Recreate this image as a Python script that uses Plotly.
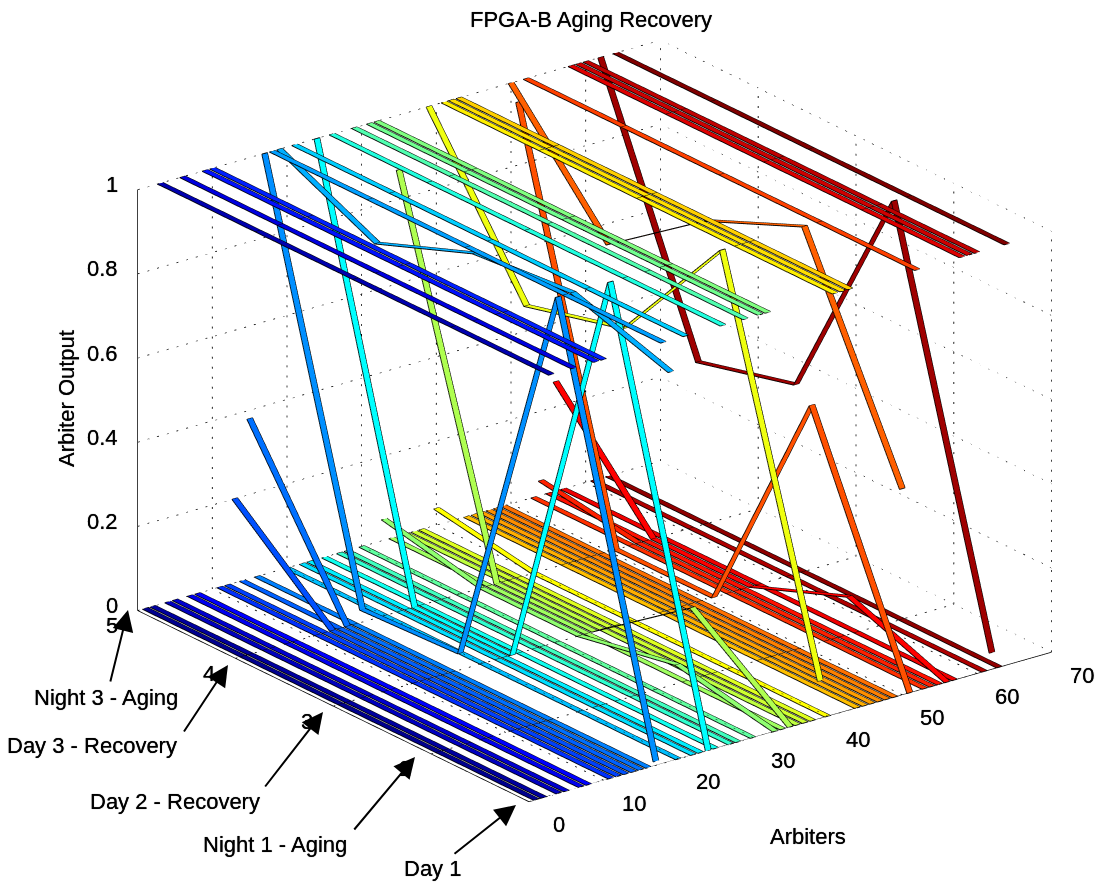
import plotly.graph_objects as go

# ---------- data ----------
arbiters = list(range(1, 65))
sample_index = [1, 2, 3, 4, 5]
day1 = [0,0,1,0,0,1,0,0,1,1,
        0,0,0,0,0,0,.01,1,.925,0,
        1,0,0,0,0,1,0,0,1,0,
        1,1,0,0,0,0,0,0,.09,0,
        1,1,1,0,0,0,0,0,0,.49,
        0,1,0,0,0,0,0,1,1,1,
        0,.04,0,1]
night1 = [0,0,1,0,0,1,0,0,1,1,
          0,0,0,0,0,0,1,1,1,0,
          1,0,0,1,0,1,0,0,1,0,
          1,1,.045,0,.17,0,0,0,1,0,
          1,1,1,0,0,0,0,0,0,1,
          .57,1,0,0,0,.09,0,1,1,1,
          0,1,0,1]
day2 = [0,0,1,0,0,1,0,0,1,1,
        0,0,0,0,0,0,.04,1,.98,0,
        1,0,0,0,0,1,0,0,1,0,
        1,1,0,0,0,0,0,0,.7,0,
        1,1,1,0,0,0,0,0,0,.9,
        0,1,0,0,0,0,0,1,1,1,
        0,.45,0,1]
day3 = [0,0,1,0,0,1,0,0,1,1,
        0,0,0,0,0,0,.03,1,.89,0,
        1,0,0,0,0,1,0,0,1,0,
        1,1,0,0,0,0,0,0,.64,0,
        1,1,1,0,0,0,0,0,0,.73,
        0,1,0,0,0,0,0,1,1,1,
        0,.39,0,1]
night3 = [0,0,1,0,0,1,0,0,1,1,
          0,0,.2,0,.38,0,1,1,1,0,
          1,0,0,1,0,1,0,0,1,0,
          1,1,.05,0,.87,0,0,0,1,.04,
          1,1,1,0,0,0,0,0,0,1,
          .95,1,0,.035,0,.26,0,1,1,1,
          0,1,0,1]
x_ticks = [0, 10, 20, 30, 40, 50, 60, 70]
y_ticks = [1, 2, 3, 4, 5]
z_ticks = [0, 0.2, 0.4, 0.6, 0.8, 1]

RIBBON_WIDTH = 0.75
series = [day1, night1, day2, day3, night3]


def jet(i, n=64):
    f = lambda c: max(0.0, min(1.0, c))
    v = i / n * 4
    r = f(min(v - 1.5, 4.5 - v))
    g = f(min(v - 0.5, 3.5 - v))
    b = f(min(v + 0.5, 2.5 - v))
    return "rgb(%d,%d,%d)" % (round(r * 255), round(g * 255), round(b * 255))


# ---------- ribbons ----------
vx, vy, vz, ti, tj, tk, fc = [], [], [], [], [], [], []
ex, ey, ez = [], [], []
for col, a in enumerate(arbiters):
    base = len(vx)
    heights = [s[col] for s in series]
    left = a - RIBBON_WIDTH / 2
    right = a + RIBBON_WIDTH / 2
    for yv, h in zip(sample_index, heights):
        vx += [left, right]
        vy += [yv, yv]
        vz += [h, h]
    for k in range(len(sample_index) - 1):
        p = base + 2 * k
        ti += [p, p]
        tj += [p + 1, p + 3]
        tk += [p + 3, p + 2]
        fc += [jet(a), jet(a)]
    # outline
    ex += [left] * 5 + [None] + [right] * 5 + [None]
    ey += sample_index + [None] + sample_index + [None]
    ez += heights + [None] + heights + [None]
    for yv, h in zip(sample_index, heights):
        ex += [left, right, None]
        ey += [yv, yv, None]
        ez += [h, h, None]

fig = go.Figure()
fig.add_trace(go.Mesh3d(x=vx, y=vy, z=vz, i=ti, j=tj, k=tk, facecolor=fc, flatshading=True,
                        lighting=dict(ambient=1, diffuse=0, specular=0, roughness=1, fresnel=0),
                        hoverinfo="skip", showscale=False))
fig.add_trace(go.Scatter3d(x=ex, y=ey, z=ez, mode="lines", line=dict(color="black", width=1.8),
                           hoverinfo="skip", showlegend=False))

# ---------- dotted grid ----------
xmin, xmax = x_ticks[0], x_ticks[-1]
ymin, ymax = y_ticks[0], y_ticks[-1]
zmin, zmax = z_ticks[0], z_ticks[-1]
gx, gy, gz = [], [], []


def seg(store, a, b):
    store[0].extend([a[0], b[0], None])
    store[1].extend([a[1], b[1], None])
    store[2].extend([a[2], b[2], None])


def dotted(store, a, b, n):
    # short dashes every n-th of the line, so that the grid reads as fine dots
    for i in range(n + 1):
        t0 = i / n
        t1 = min(1.0, t0 + 0.2 / n)
        p0 = tuple(a[c] + (b[c] - a[c]) * t0 for c in range(3))
        p1 = tuple(a[c] + (b[c] - a[c]) * t1 for c in range(3))
        seg(store, p0, p1)


g = (gx, gy, gz)
for xv in x_ticks:
    dotted(g, (xv, ymin, zmin), (xv, ymax, zmin), 44)
    dotted(g, (xv, ymax, zmin), (xv, ymax, zmax), 42)
for yv in y_ticks:
    dotted(g, (xmin, yv, zmin), (xmax, yv, zmin), 54)
    dotted(g, (xmax, yv, zmin), (xmax, yv, zmax), 42)
for zv in z_ticks:
    dotted(g, (xmin, ymax, zv), (xmax, ymax, zv), 54)
    dotted(g, (xmax, ymin, zv), (xmax, ymax, zv), 44)
fig.add_trace(go.Scatter3d(x=gx, y=gy, z=gz, mode="lines", line=dict(color="#000000", width=1.6),
                           hoverinfo="skip", showlegend=False))

# ---------- axes lines and tick marks ----------
ax, ay, az = [], [], []
a = (ax, ay, az)
seg(a, (xmin, ymin, zmin), (xmax, ymin, zmin))
seg(a, (xmin, ymin, zmin), (xmin, ymax, zmin))
seg(a, (xmin, ymax, zmin), (xmin, ymax, zmax))
for xv in x_ticks:
    seg(a, (xv, ymin, zmin), (xv, ymin - 0.13, zmin))
for yv in y_ticks:
    seg(a, (xmin, yv, zmin), (xmin - 1.8, yv, zmin))
for zv in z_ticks:
    seg(a, (xmin, ymax, zv), (xmin, ymax + 0.07, zv))
fig.add_trace(go.Scatter3d(x=ax, y=ay, z=az, mode="lines", line=dict(color="black", width=1.5),
                           hoverinfo="skip", showlegend=False))

# ---------- tick labels ----------
FONT = "Liberation Sans, Arial, sans-serif"
FS = 22
SHADOW = "0 0 0.7px #000"
scene_notes = []
for xv in x_ticks:
    scene_notes.append(dict(x=xv, y=ymin, z=zmin, text=str(xv), showarrow=False, xshift=30, yshift=-23,
                            font=dict(size=FS, color="black", family=FONT, shadow=SHADOW)))
for yv in y_ticks[1:]:
    scene_notes.append(dict(x=xmin, y=yv, z=zmin, text=str(yv), showarrow=False, xshift=-26, yshift=-15,
                            font=dict(size=FS, color="black", family=FONT, shadow=SHADOW)))
for zv in z_ticks:
    scene_notes.append(dict(x=xmin, y=ymax, z=zv, text=str(zv), showarrow=False, xshift=-18, yshift=5,
                            xanchor="right", font=dict(size=FS, color="black", family=FONT, shadow=SHADOW)))

# ---------- projection ----------
eye_dir = (-0.5635, -0.7364, 0.3737)
k = 3.0
cam_center = (-0.0953, 0.0514, -0.0422)
eye = dict(x=eye_dir[0] * k + cam_center[0], y=eye_dir[1] * k + cam_center[1], z=eye_dir[2] * k + cam_center[2])
hidden = dict(visible=False, showgrid=False, zeroline=False, showticklabels=False, showbackground=False, title="")

W, H = 1095, 882
arrows = [
    ("Day 1", 432, 868, 453, 855, 516, 805),
    ("Night 1 - Aging", 275, 844, 353, 831, 415, 757),
    ("Day 2 - Recovery", 175, 801, 264, 788, 323, 712),
    ("Day 3 - Recovery", 92, 745, 183, 733, 228, 665),
    ("Night 3 - Aging", 106, 697, 110, 683, 128, 610),
]


def paper_text(px, py, text, **kw):
    return dict(x=px / W, y=1 - py / H, xref="paper", yref="paper", text=text, showarrow=False,
                xanchor="center", yanchor="middle",
                font=dict(size=FS, color="black", family=FONT, shadow=SHADOW), **kw)


paper_notes = [
    paper_text(591, 20, "FPGA-B Aging Recovery"),
    paper_text(808, 836, "Arbiters"),
    paper_text(67, 399, "Arbiter Output", textangle=-90),
]
for label, tx, ty, x0, y0, x1, y1 in arrows:
    paper_notes.append(paper_text(tx, ty, label))
    paper_notes.append(dict(x=x1 / W, y=1 - y1 / H, ax=x0 - x1, ay=y0 - y1, xref="paper", yref="paper",
                            axref="pixel", ayref="pixel", text="", showarrow=True, arrowhead=2, arrowsize=2.1,
                            arrowwidth=2, arrowcolor="black"))

fig.update_layout(
    width=W, height=H, margin=dict(l=0, r=0, t=0, b=0), paper_bgcolor="white", showlegend=False,
    annotations=paper_notes,
    scene=dict(
        domain=dict(x=[0, 1], y=[0, 1]),
        xaxis=dict(range=[xmin, xmax], **hidden),
        yaxis=dict(range=[ymin, ymax], **hidden),
        zaxis=dict(range=[zmin, zmax], **hidden),
        aspectmode="manual", aspectratio=dict(x=1.4925, y=1.46, z=1.029),
        camera=dict(projection=dict(type="orthographic"), eye=eye, up=dict(x=0, y=0, z=1),
                    center=dict(x=cam_center[0], y=cam_center[1], z=cam_center[2])),
        annotations=scene_notes,
    ),
)
fig.write_html("out.html", post_script="document.body.style.margin='0';", config=dict(displayModeBar=False))
